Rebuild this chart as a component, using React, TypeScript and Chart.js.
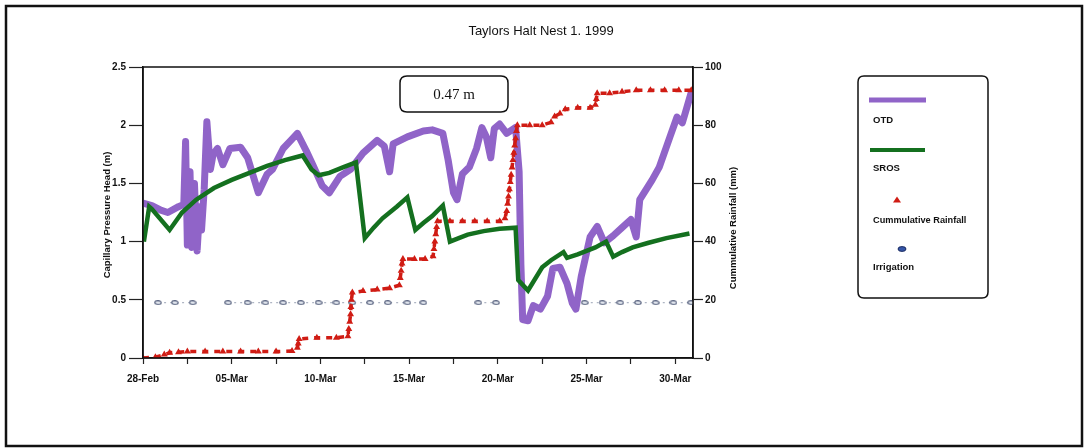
import React, { useEffect, useRef } from 'react';
import { Chart, registerables } from 'chart.js';

Chart.register(...registerables);

const chartTitle = 'Taylors Halt Nest 1. 1999';
const leftAxisTitle = 'Capillary Pressure Head (m)';
const rightAxisTitle = 'Cummulative Rainfall (mm)';
const annotationText = '0.47 m';

const xTickValues = [0, 2.5, 5, 7.5, 10, 12.5, 15, 17.5, 20, 22.5, 25, 27.5, 30];
const xTickLabels = ['28-Feb', '05-Mar', '10-Mar', '15-Mar', '20-Mar', '25-Mar', '30-Mar'];
const leftTicks = [0, 0.5, 1, 1.5, 2, 2.5];
const rightTicks = [0, 20, 40, 60, 80, 100];

const legendLabels = ['OTD', 'SROS', 'Cummulative Rainfall', 'Irrigation'];

// OTD (left axis, m) – days after 28-Feb
const otdDays = [0, 0.5, 1.0, 1.4, 2.0, 2.3, 2.4, 2.5, 2.65, 2.75, 2.9, 3.05, 3.2, 3.3, 3.45, 3.6, 3.8, 3.95, 4.2, 4.5, 4.9, 5.5, 5.9, 6.5, 7.0, 7.3, 7.9, 8.4, 8.7, 9.2, 9.6, 10.1, 10.5, 11.1, 11.7, 12.4, 13.2, 13.6, 13.9, 14.1, 14.9, 15.8, 16.3, 16.9, 17.2, 17.5, 17.7, 18.0, 18.4, 18.8, 19.1, 19.35, 19.6, 19.8, 20.1, 20.5, 21.0, 21.2, 21.3, 21.4, 21.7, 22.0, 22.4, 22.8, 23.1, 23.5, 23.9, 24.2, 24.4, 24.7, 25.2, 25.6, 26.0, 26.5, 27.0, 27.5, 27.8, 28.0, 28.7, 29.1, 29.7, 30.1, 30.4, 30.9];
const otdValues = [1.33, 1.31, 1.27, 1.25, 1.30, 1.32, 1.86, 0.97, 1.60, 0.95, 1.50, 0.92, 1.30, 1.10, 1.45, 2.03, 1.62, 1.75, 1.80, 1.66, 1.80, 1.81, 1.72, 1.42, 1.58, 1.62, 1.80, 1.88, 1.93, 1.78, 1.65, 1.48, 1.42, 1.56, 1.62, 1.76, 1.87, 1.82, 1.60, 1.84, 1.90, 1.95, 1.96, 1.93, 1.70, 1.42, 1.36, 1.58, 1.64, 1.80, 1.98, 1.90, 1.72, 1.97, 2.01, 1.93, 1.98, 1.60, 0.80, 0.33, 0.32, 0.45, 0.42, 0.53, 0.77, 0.78, 0.64, 0.47, 0.42, 0.70, 1.04, 1.13, 0.99, 1.05, 1.12, 1.19, 1.04, 1.36, 1.53, 1.64, 1.90, 2.07, 2.02, 2.28];

// SROS (left axis, m)
const srosDays = [0.05, 0.35, 0.5, 1.5, 2.2, 3.0, 4.0, 5.0, 6.0, 7.0, 8.0, 9.0, 9.5, 9.9, 10.5, 11.3, 12.0, 12.5, 13.0, 13.5, 14.3, 14.9, 15.35, 15.8, 16.3, 16.9, 17.3, 17.8, 18.3, 19.2, 20.1, 21.0, 21.15, 21.7, 22.5, 23.0, 23.7, 23.9, 24.5, 25.0, 25.5, 26.1, 26.5, 27.0, 27.6, 28.5, 29.5, 30.8];
const srosValues = [1.00, 1.30, 1.28, 1.10, 1.25, 1.36, 1.46, 1.53, 1.59, 1.65, 1.70, 1.74, 1.62, 1.57, 1.59, 1.64, 1.68, 1.03, 1.12, 1.20, 1.30, 1.38, 1.10, 1.16, 1.22, 1.31, 1.00, 1.03, 1.06, 1.09, 1.11, 1.12, 0.67, 0.58, 0.78, 0.84, 0.91, 0.86, 0.89, 0.92, 0.95, 1.00, 0.87, 0.91, 0.95, 0.99, 1.03, 1.07];

// Cumulative rainfall (right axis, mm)
const rainDays = [0.0, 0.7, 1.2, 1.5, 2.0, 2.5, 3.5, 4.5, 5.5, 6.5, 7.5, 8.4, 8.7, 8.75, 8.8, 9.8, 10.9, 11.55, 11.6, 11.65, 11.7, 11.72, 11.75, 11.8, 12.4, 13.2, 13.9, 14.45, 14.5, 14.55, 14.6, 14.65, 15.3, 15.9, 16.35, 16.4, 16.45, 16.5, 16.55, 16.6, 17.3, 18.0, 18.7, 19.4, 20.1, 20.4, 20.5, 20.55, 20.6, 20.65, 20.7, 20.75, 20.8, 20.85, 20.9, 20.95, 21.0, 21.05, 21.1, 21.8, 22.5, 23.0, 23.2, 23.5, 23.8, 24.5, 25.2, 25.5, 25.55, 25.6, 26.3, 27.0, 27.8, 28.6, 29.4, 30.2, 30.9];
const rainValues = [0, 0.3, 1.2, 1.8, 2.0, 2.2, 2.2, 2.2, 2.2, 2.2, 2.2, 2.4, 3.5, 5.0, 6.5, 7.0, 7.0, 7.5, 10, 12.5, 15, 17.5, 20, 22.5, 23, 23.5, 24, 25, 27.5, 30, 32.5, 34, 34, 34, 35, 37.5, 40, 42.5, 45, 47, 47, 47, 47, 47, 47, 48, 50.5, 53, 55.5, 58, 60.5, 63, 65.5, 68, 70.5, 73, 75.5, 78, 80, 80, 80, 81, 83, 84, 85.5, 86, 86, 87, 89, 91, 91, 91.5, 92, 92, 92, 92, 92];

// Irrigation (right axis, mm) – null = no reading
const irrDays = [0.85, 1.8, 2.8, 3.8, 4.8, 5.9, 6.9, 7.9, 8.9, 9.9, 10.9, 11.8, 12.8, 13.8, 14.9, 15.8, 16.9, 17.9, 18.9, 19.9, 20.9, 21.9, 22.9, 23.9, 24.9, 25.9, 26.9, 27.9, 28.9, 29.9, 30.9];
const irrValues = [19, 19, 19, null, 19, 19, 19, 19, 19, 19, 19, 19, 19, 19, 19, 19, null, null, 19, 19, null, null, null, null, 19, 19, 19, 19, 19, 19, 19];

const PURPLE = '#9064c8';
const GREEN = '#14701f';
const RED = '#d01c14';
const FONT = '"Liberation Sans", Arial, sans-serif';

function roundRect(ctx: CanvasRenderingContext2D, x: number, y: number, w: number, h: number, r: number) {
  ctx.beginPath();
  ctx.moveTo(x + r, y);
  ctx.lineTo(x + w - r, y);
  ctx.quadraticCurveTo(x + w, y, x + w, y + r);
  ctx.lineTo(x + w, y + h - r);
  ctx.quadraticCurveTo(x + w, y + h, x + w - r, y + h);
  ctx.lineTo(x + r, y + h);
  ctx.quadraticCurveTo(x, y + h, x, y + h - r);
  ctx.lineTo(x, y + r);
  ctx.quadraticCurveTo(x, y, x + r, y);
  ctx.closePath();
}

const decorPlugin = {
  id: 'decor',
  beforeDraw(chart: any) {
    const ctx = chart.ctx as CanvasRenderingContext2D;
    ctx.save();
    ctx.fillStyle = '#ffffff';
    ctx.fillRect(0, 0, chart.width, chart.height);
    ctx.restore();
  },
  afterDraw(chart: any) {
    const ctx = chart.ctx as CanvasRenderingContext2D;
    const ca = chart.chartArea;
    ctx.save();
    // outer frame
    ctx.strokeStyle = '#111';
    ctx.lineWidth = 2.5;
    ctx.strokeRect(6, 6, 1076, 440);
    // plot frame
    ctx.lineWidth = 1.5;
    ctx.strokeRect(ca.left, ca.top, ca.right - ca.left, ca.bottom - ca.top);
    // title
    ctx.fillStyle = '#111';
    ctx.font = '13px ' + FONT;
    ctx.textAlign = 'center';
    ctx.textBaseline = 'middle';
    ctx.fillText(chartTitle, 541, 31);
    // axis titles
    ctx.font = 'bold 9.5px ' + FONT;
    ctx.save();
    ctx.translate(107, 215);
    ctx.rotate(-Math.PI / 2);
    ctx.fillText(leftAxisTitle, 0, 0);
    ctx.restore();
    ctx.save();
    ctx.translate(733, 228);
    ctx.rotate(-Math.PI / 2);
    ctx.fillText(rightAxisTitle, 0, 0);
    ctx.restore();
    // annotation box
    roundRect(ctx, 400, 76, 108, 36, 7);
    ctx.fillStyle = '#fff';
    ctx.fill();
    ctx.lineWidth = 1.5;
    ctx.strokeStyle = '#111';
    ctx.stroke();
    ctx.fillStyle = '#111';
    ctx.font = '15px "Liberation Serif", "Times New Roman", serif';
    ctx.fillText(annotationText, 454, 95);
    // legend box
    roundRect(ctx, 858, 76, 130, 222, 6);
    ctx.lineWidth = 1.5;
    ctx.stroke();
    ctx.lineCap = 'butt';
    ctx.strokeStyle = PURPLE;
    ctx.lineWidth = 5;
    ctx.beginPath(); ctx.moveTo(869, 100); ctx.lineTo(926, 100); ctx.stroke();
    ctx.strokeStyle = GREEN;
    ctx.lineWidth = 4;
    ctx.beginPath(); ctx.moveTo(870, 150); ctx.lineTo(925, 150); ctx.stroke();
    ctx.fillStyle = RED;
    ctx.beginPath(); ctx.moveTo(897, 196.5); ctx.lineTo(901, 202.5); ctx.lineTo(893, 202.5); ctx.closePath(); ctx.fill();
    ctx.beginPath(); ctx.ellipse(902, 249, 4, 2.4, 0, 0, Math.PI * 2);
    ctx.fillStyle = '#3556a8'; ctx.fill();
    ctx.lineWidth = 1; ctx.strokeStyle = '#1c2c60'; ctx.stroke();
    ctx.fillStyle = '#111';
    ctx.textAlign = 'left';
    ctx.font = 'bold 9.5px ' + FONT;
    ctx.fillText(legendLabels[0], 873, 120);
    ctx.fillText(legendLabels[1], 873, 168);
    ctx.font = 'bold 9.2px ' + FONT;
    ctx.fillText(legendLabels[2], 873, 220);
    ctx.font = 'bold 9.5px ' + FONT;
    ctx.fillText(legendLabels[3], 873, 267);
    ctx.restore();
  },
};

function pts(xs: number[], ys: (number | null)[]) {
  return xs.map((x, i) => ({ x, y: ys[i] }));
}

export default function App() {
  const ref = useRef<HTMLCanvasElement>(null);
  useEffect(() => {
    document.body.style.margin = '0';
    const ell = document.createElement('canvas');
    ell.width = 8;
    ell.height = 5;
    const e = ell.getContext('2d')!;
    e.beginPath();
    e.ellipse(4, 2.5, 3.2, 1.8, 0, 0, Math.PI * 2);
    e.fillStyle = '#eef2f8';
    e.fill();
    e.lineWidth = 1.2;
    e.strokeStyle = '#5a6480';
    e.stroke();

    const tickFont = { family: FONT, size: 10, weight: 'bold' as const };
    const chart = new Chart(ref.current!, {
      type: 'line',
      data: {
        datasets: [
          {
            label: 'SROS',
            data: pts(srosDays, srosValues),
            yAxisID: 'yL',
            borderColor: GREEN,
            borderWidth: 4.5,
            pointRadius: 0,
            tension: 0,
            order: 0,
          },
          {
            label: 'Cummulative Rainfall',
            data: pts(rainDays, rainValues),
            yAxisID: 'yR',
            borderColor: RED,
            borderWidth: 3.5,
            borderDash: [6, 6],
            pointStyle: 'triangle',
            pointRadius: 4,
            pointBackgroundColor: RED,
            pointBorderColor: RED,
            pointBorderWidth: 0,
            tension: 0,
            order: 1,
          },
          {
            label: 'Irrigation',
            data: pts(irrDays, irrValues),
            yAxisID: 'yR',
            borderColor: '#9aa2b4',
            borderWidth: 1,
            borderDash: [2, 4],
            pointStyle: ell as any,
            pointRadius: 4,
            spanGaps: false,
            tension: 0,
            order: 2,
          },
          {
            label: 'OTD',
            data: pts(otdDays, otdValues),
            yAxisID: 'yL',
            borderColor: PURPLE,
            borderWidth: 7,
            borderJoinStyle: 'round',
            borderCapStyle: 'round',
            pointRadius: 0,
            tension: 0,
            order: 3,
          },
        ],
      },
      options: {
        responsive: false,
        animation: false,
        devicePixelRatio: 1,
        layout: { padding: { top: 67, left: 0, right: 0, bottom: 0 } },
        plugins: { legend: { display: false }, title: { display: false }, tooltip: { enabled: false } },
        scales: {
          x: {
            type: 'linear',
            position: 'bottom',
            min: 0,
            max: 31,
            afterBuildTicks: (s: any) => { s.ticks = xTickValues.map((v) => ({ value: v })); },
            afterFit: (s: any) => { s.height = 90; },
            ticks: {
              autoSkip: false,
              maxRotation: 0,
              padding: 9,
              color: '#111',
              font: tickFont,
              callback: (v: any) => (Number(v) % 5 === 0 ? xTickLabels[Number(v) / 5] : ''),
            },
            grid: { drawOnChartArea: false, tickLength: 6, color: '#222', tickWidth: 1.2 },
            border: { color: '#111', width: 1.5 },
          },
          yL: {
            type: 'linear',
            position: 'left',
            min: 0,
            max: 2.5,
            afterBuildTicks: (s: any) => { s.ticks = leftTicks.map((v) => ({ value: v })); },
            afterFit: (s: any) => { s.width = 143; },
            ticks: { color: '#111', font: tickFont, padding: 3, callback: (v: any) => String(v) },
            grid: { drawOnChartArea: false, tickLength: 14, color: '#222', tickWidth: 1.2 },
            border: { color: '#111', width: 1.5 },
          },
          yR: {
            type: 'linear',
            position: 'right',
            min: 0,
            max: 100,
            afterBuildTicks: (s: any) => { s.ticks = rightTicks.map((v) => ({ value: v })); },
            afterFit: (s: any) => { s.width = 1084 - 693; },
            ticks: { color: '#111', font: tickFont, padding: 2, callback: (v: any) => String(v) },
            grid: { drawOnChartArea: false, tickLength: 10, color: '#222', tickWidth: 1.2 },
            border: { color: '#111', width: 1.5 },
          },
        },
      } as any,
      plugins: [decorPlugin],
    });
    return () => chart.destroy();
  }, []);
  return (
    <div style={{ width: 1084, height: 448 }}>
      <canvas ref={ref} width={1084} height={448} style={{ display: 'block' }} />
    </div>
  );
}
